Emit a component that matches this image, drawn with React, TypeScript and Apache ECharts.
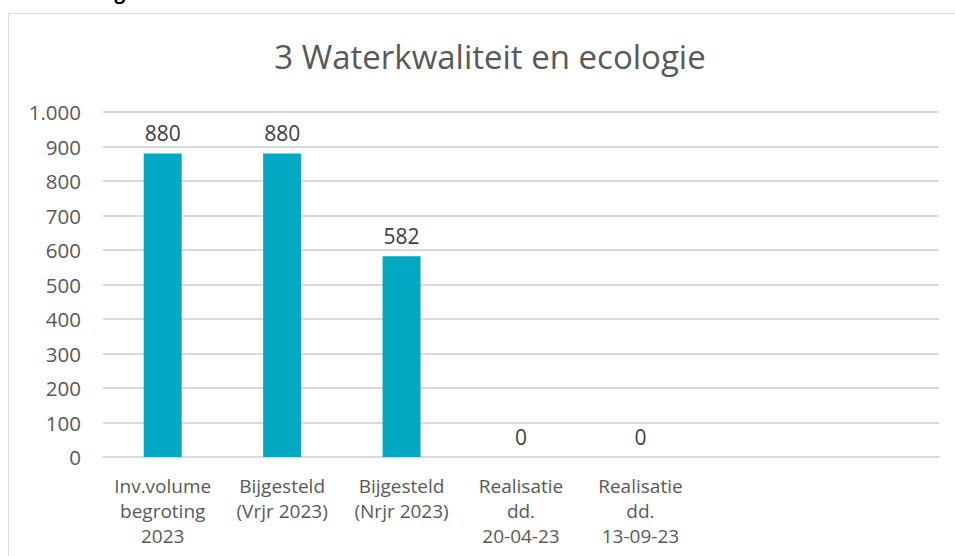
import React, { useEffect, useRef } from "react";
import * as echarts from "echarts";

const titleText = "3 Waterkwaliteit en ecologie";
const headerText = "Toelichting";
const categories = [
  "Inv.volume\nbegroting\n2023",
  "Bijgesteld\n(Vrjr 2023)",
  "Bijgesteld\n(Nrjr 2023)",
  "Realisatie\ndd.\n20-04-23",
  "Realisatie\ndd.\n13-09-23",
  "",
  "",
];
const values: (number | null)[] = [880, 880, 582, 0, 0, null, null];
const yMin = 0;
const yMax = 1000;
const yInterval = 100;

const FONT = "'Open Sans', 'Noto Sans', sans-serif";

function fmt(v: number): string {
  return String(v).replace(/\B(?=(\d{3})+(?!\d))/g, ".");
}

export default function App() {
  const ref = useRef<HTMLDivElement>(null);
  useEffect(() => {
    document.body.style.margin = "0";
    const chart = echarts.init(ref.current!, null, { renderer: "svg" });
    chart.setOption({
      animation: false,
      backgroundColor: "#ffffff",
      title: {
        text: titleText,
        left: 485,
        textAlign: "center",
        top: 35,
        textStyle: {
          fontFamily: FONT,
          fontSize: 33,
          fontWeight: "normal",
          color: "#595959",
        },
      },
      graphic: [
        {
          type: "rect",
          shape: { x: 8.5, y: 13.5, width: 1000, height: 600 },
          style: { fill: "none", stroke: "#d9d9d9", lineWidth: 1 },
          silent: true,
        },
        {
          type: "text",
          x: 20,
          y: -18,
          style: {
            text: headerText,
            font: `bold 19px ${FONT}`,
            fill: "#000000",
          },
          silent: true,
        },
      ],
      grid: { left: 103, right: 16, top: 112, bottom: 99, containLabel: false },
      xAxis: {
        type: "category",
        data: categories,
        axisLine: { show: true, lineStyle: { color: "#d9d9d9", width: 2 } },
        axisTick: { show: false },
        axisLabel: {
          interval: 0,
          margin: 16,
          fontFamily: FONT,
          fontSize: 19,
          lineHeight: 25,
          color: "#595959",
        },
      },
      yAxis: {
        type: "value",
        min: yMin,
        max: yMax,
        interval: yInterval,
        axisLine: { show: false },
        axisTick: { show: false },
        splitLine: { lineStyle: { color: "#d9d9d9", width: 2 } },
        axisLabel: {
          margin: 22,
          fontFamily: FONT,
          fontSize: 20.5,
          color: "#595959",
          formatter: (v: number) => fmt(v),
        },
      },
      series: [
        {
          type: "bar",
          data: values,
          barWidth: 38,
          itemStyle: { color: "#03a8c2" },
          label: {
            show: true,
            position: "top",
            distance: 10,
            fontFamily: FONT,
            fontSize: 21,
            color: "#404040",
            formatter: (p: any) => fmt(p.value),
          },
        },
      ],
    });
    return () => chart.dispose();
  }, []);
  return <div ref={ref} style={{ width: 955, height: 556 }} />;
}
